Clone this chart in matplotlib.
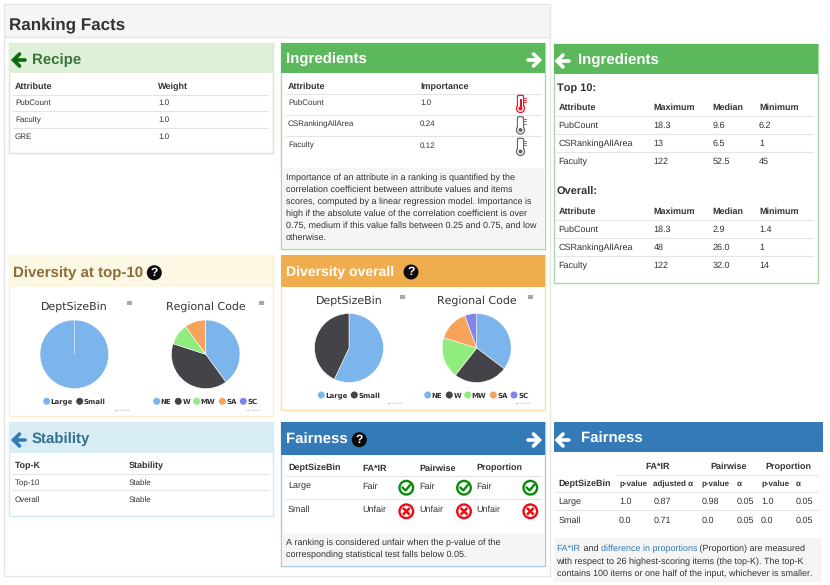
import matplotlib
matplotlib.use("Agg")
import matplotlib.pyplot as plt
from matplotlib.patches import Circle, FancyBboxPatch, Rectangle

plt.rcParams['font.family'] = ['Liberation Sans', 'DejaVu Sans']
plt.rcParams['text.hinting'] = 'no_hinting'
plt.rcParams['text.hinting_factor'] = 1

W, H = 830, 585

# Dados
recipe_attrs = ["PubCount", "Faculty", "GRE"]
recipe_weights = ["1.0", "1.0", "1.0"]

ingr_attrs = ["PubCount", "CSRankingAllArea", "Faculty"]
ingr_importance = ["1.0", "0.24", "0.12"]

top10_max = ["18.3", "13", "122"]
top10_median = ["9.6", "6.5", "52.5"]
top10_min = ["6.2", "1", "45"]
overall_max = ["18.3", "48", "122"]
overall_median = ["2.9", "26.0", "32.0"]
overall_min = ["1.4", "1", "14"]

size_labels = ["Large", "Small"]
region_labels = ["NE", "W", "MW", "SA", "SC"]
top10_size = [10, 0]
top10_region = [4, 4, 1, 1, 0]
overall_size = [57, 43]
overall_region = [35.3, 25.3, 19.2, 14.6, 5.6]

stability_k = ["Top-10", "Overall"]
stability_val = ["Stable", "Stable"]

fair_groups = ["Large", "Small"]
fair_status = ["Fair", "Unfair"]
fair_pvalue = ["1.0", "0.0"]
fair_adjusted = ["0.87", "0.71"]
pair_pvalue = ["0.98", "0.0"]
prop_pvalue = ["1.0", "0.0"]
alpha_vals = ["0.05", "0.05"]

note_ingredients = [
    "Importance of an attribute in a ranking is quantified by the",
    "correlation coefficient between attribute values and items",
    "scores, computed by a linear regression model. Importance is",
    "high if the absolute value of the correlation coefficient is over",
    "0.75, medium if this value falls between 0.25 and 0.75, and low",
    "otherwise.",
]
note_fairness = [
    "A ranking is considered unfair when the p-value of the",
    "corresponding statistical test falls below 0.05.",
]

PIE_COLORS = ['#7cb5ec', '#434348', '#90ed7d', '#f7a35c', '#8085e9']
TXT = '#333333'
LINE = '#e4e4e4'

fig = plt.figure(figsize=(W / 100, H / 100), dpi=100)
ax = fig.add_axes([0, 0, 1, 1])
ax.set_xlim(0, W)
ax.set_ylim(H, 0)
ax.axis('off')


def rect(x0, y0, x1, y1, fc='none', ec='none', lw=0.8, z=1):
    ax.add_patch(Rectangle((x0, y0), x1 - x0, y1 - y0, facecolor=fc, edgecolor=ec, linewidth=lw, zorder=z))


def label(x, y, s, size=None, bold=False, color=TXT, ha='left', family=None):
    if size is None:
        size = 6.2 if bold else 6.0
    kw = {'family': family} if family else {}
    return ax.text(x, y, s, fontsize=size, fontweight='bold' if bold else 'normal',
                   color=color, ha=ha, va='center_baseline', zorder=5, **kw)


def hline(x0, x1, y, color=LINE):
    ax.plot([x0, x1], [y, y], color=color, lw=0.8, zorder=3)


def arrow(x, y, color, right=False):
    # seta grossa no estilo do font-awesome
    s = -1 if right else 1
    ax.plot([x + s * 1.5, x + s * 12.5], [y, y], color=color, lw=2.6, solid_capstyle='round', zorder=6)
    ax.plot([x + s * 7, x + s * 1, x + s * 7], [y - 6, y, y + 6], color=color, lw=2.6,
            solid_capstyle='round', solid_joinstyle='miter', zorder=6)


def help_icon(x, y, r=7.5):
    ax.add_patch(Circle((x, y), r, facecolor='#0a0a0a', edgecolor='none', zorder=6))
    ax.text(x, y + 0.3, "?", fontsize=8.5, fontweight='bold', color='white', ha='center', va='center', zorder=7)


def ok_icon(x, y):
    ax.add_patch(Circle((x, y), 6.8, facecolor='white', edgecolor='#0a8a0a', linewidth=1.7, zorder=6))
    ax.plot([x - 3.5, x - 0.7, x + 3.7], [y, y + 2.8, y - 2.6], color='#0a8a0a', lw=1.7, zorder=7)


def bad_icon(x, y):
    ax.add_patch(Circle((x, y), 6.8, facecolor='white', edgecolor='#f00a14', linewidth=1.7, zorder=6))
    ax.plot([x - 2.5, x + 2.5], [y - 2.5, y + 2.5], color='#f00a14', lw=1.8, zorder=7)
    ax.plot([x - 2.5, x + 2.5], [y + 2.5, y - 2.5], color='#f00a14', lw=1.8, zorder=7)


def thermometer(x, y, color, filled=False):
    ax.add_patch(FancyBboxPatch((x - 1.8, y - 7), 3.6, 11, boxstyle="round,pad=1.2", facecolor='white',
                                edgecolor=color, linewidth=0.9, zorder=6))
    ax.add_patch(Circle((x, y + 5), 4.0, facecolor='white', edgecolor=color, linewidth=0.9, zorder=6))
    ax.add_patch(Circle((x, y + 5), 2.0, facecolor=color, edgecolor='none', zorder=8))
    ax.add_patch(Rectangle((x - 2.2, y - 6), 4.4, 11, facecolor='white', edgecolor='none', zorder=7))
    if filled:
        ax.add_patch(Rectangle((x - 1, y - 5), 2, 9, facecolor=color, edgecolor='none', zorder=8))
    for k in range(3):
        ax.plot([x + 3.6, x + 5.4], [y - 6 + k * 2.4] * 2, color=color, lw=0.6, zorder=6)


def panel(x0, y0, x1, y1, yh, head, border, title, tcolor, tx, tsize=10.5):
    rect(x0, y0, x1, y1, fc='white', ec=border, lw=1.0, z=1)
    rect(x0, y0, x1, yh, fc=head, ec='none', z=2)
    label(tx, (y0 + yh) / 2 + 0.3, title, size=tsize, bold=True, color=tcolor)


def pie(cx, cy, r, values):
    a = fig.add_axes([(cx - r - 1) / W, 1 - (cy + r + 1) / H, (2 * r + 2) / W, (2 * r + 2) / H])
    a.pie(values, colors=PIE_COLORS[:len(values)], startangle=90, counterclock=False, radius=r / (r + 1),
          wedgeprops={'edgecolor': 'white', 'linewidth': 0.4})
    a.set_xlim(-1, 1)
    a.set_ylim(-1, 1)
    a.patch.set_alpha(0)


def legend(items, y):
    # items: (nome, índice da cor, x do círculo)
    for name, i, x in items:
        ax.add_patch(Circle((x, y), 3.5, facecolor=PIE_COLORS[i], edgecolor='none', zorder=5))
        label(x + 4, y, name, size=4.8, bold=True, family='DejaVu Sans')


def menu_icon(x, y):
    rect(x - 2.5, y - 2, x + 2.5, y + 2, fc='#a8a8a8', z=5)
    hline(x - 2, x + 2, y, color='#e0e0e0')


def credit(x, y):
    label(x, y, "Highcharts.com", size=1.6, color='#999999', ha='center', family='DejaVu Sans')


# fundo da página
rect(3.5, 37, 550, 576, fc='white', ec='#e6e6e6', lw=1.0, z=0)
rect(3.5, 3.5, 550, 37, fc='#f5f5f5', ec='#e6e6e6', lw=1.0, z=0)
label(9, 23, "Ranking Facts", size=12.4, bold=True)

# Recipe
panel(8.5, 42.5, 272.5, 153, 73, '#dff0d8', '#d6e9c6', "Recipe", '#3c763d', 32)
arrow(12.5, 60, '#0a6b0a')
label(15, 85.7, "Attribute", bold=True)
label(158, 85.7, "Weight", bold=True)
for i, (a, w) in enumerate(zip(recipe_attrs, recipe_weights)):
    hline(13, 268, 94.5 + i * 16.5)
    label(15, 102.5 + i * 16.6, a)
    label(158, 102.5 + i * 16.6, w)

# Ingredients (meio)
panel(281, 42.5, 545, 248.5, 73, '#5cb85c', '#a9d8a9', "Ingredients", 'white', 285.7)
arrow(540.5, 60, 'white', right=True)
label(288, 85.7, "Attribute", bold=True)
label(420, 85.7, "Importance", bold=True)
for i, (a, v) in enumerate(zip(ingr_attrs, ingr_importance)):
    hline(285.5, 541, 94.3 + i * 21)
    label(288, 102.4 + i * 21.1, a)
    label(420, 102.4 + i * 21.1, v)
thermometer(520.5, 103.5, '#ee1122', filled=True)
thermometer(520.5, 125, '#666666')
thermometer(520.5, 146.5, '#666666')
rect(281.5, 167.7, 544.5, 248, fc='#f5f5f5', z=2)
for i, line in enumerate(note_ingredients):
    label(285.7, 176.8 + i * 12.05, line, size=6.3)

# Ingredients (direita)
panel(553.5, 43.5, 817.5, 283, 74, '#5cb85c', '#a9d8a9', "Ingredients", 'white', 578)
arrow(556, 61, 'white')


def summary_table(y_title, title, maxs, medians, mins):
    label(556.5, y_title, title, size=7.9, bold=True)
    y = y_title + 19.8
    for x, s in zip([558.5, 653.5, 712.7, 759], ["Attribute", "Maximum", "Median", "Minimum"]):
        label(x, y, s, size=6.7, bold=True)
    for i, a in enumerate(ingr_attrs):
        hline(556, 813, y + 9.3 + i * 18)
        row = y + 18.2 + i * 18
        label(558.5, row, a, size=6.7)
        label(653.5, row, maxs[i], size=6.7)
        label(712.7, row, medians[i], size=6.7)
        label(759, row, mins[i], size=6.7)


summary_table(87, "Top 10:", top10_max, top10_median, top10_min)
summary_table(191, "Overall:", overall_max, overall_median, overall_min)

# Diversity at top-10
panel(8.5, 254.5, 272.5, 415.5, 287, '#fcf8e3', '#faebcc', "Diversity at top-10", '#8a6d3b', 13.3, tsize=10.5)
help_icon(154.3, 272.7)
label(74, 306, "DeptSizeBin", size=7.7, ha='center', family='DejaVu Sans')
label(206, 306, "Regional Code", size=7.7, ha='center', family='DejaVu Sans')
pie(74.3, 354.3, 34.3, top10_size)
pie(205.7, 354.3, 34.3, top10_region)
menu_icon(129.7, 303.3)
menu_icon(261.7, 303.3)
legend(zip(size_labels, [0, 1], [46.7, 79.7]), 401.3)
legend(zip(region_labels, range(5), [156.7, 178.3, 196.7, 222.3, 243.3]), 401.3)
credit(122.7, 409.7)
credit(255, 409.7)

# Diversity overall
panel(281, 254.5, 545, 409.5, 287, '#f0ad4e', '#fbdcae', "Diversity overall", 'white', 285.7, tsize=10.3)
help_icon(411, 272)
label(349, 300, "DeptSizeBin", size=7.7, ha='center', family='DejaVu Sans')
label(476.7, 300, "Regional Code", size=7.7, ha='center', family='DejaVu Sans')
pie(349, 348, 34.5, overall_size)
pie(476.7, 348, 34.5, overall_region)
menu_icon(402.7, 297.3)
menu_icon(530.3, 297.3)
legend(zip(size_labels, [0, 1], [321.3, 354.3]), 395)
legend(zip(region_labels, range(5), [427.7, 449.3, 467.7, 493.3, 514]), 395)
credit(396, 403.3)
credit(523.3, 403.3)

# Stability
panel(8.5, 422.3, 272.5, 516.3, 452.7, '#d9edf7', '#cfe8f3', "Stability", '#31708f', 32)
arrow(12.5, 440, '#337ab7')
label(15, 465.3, "Top-K", bold=True)
label(129, 465.3, "Stability", bold=True)
for i, (k, v) in enumerate(zip(stability_k, stability_val)):
    hline(13, 268, 473.7 + i * 16.6)
    label(15, 482 + i * 16.7, k)
    label(129, 482 + i * 16.7, v)

# Fairness (meio)
panel(281, 422.3, 545, 565.7, 454.7, '#337ab7', '#a9c8e4', "Fairness", 'white', 285.7)
help_icon(359.3, 439.7)
arrow(540.5, 440, 'white', right=True)
label(288, 467.3, "DeptSizeBin", size=6.6, bold=True)
for x, s in zip([362, 419, 476.7], ["FA*IR", "Pairwise", "Proportion"]):
    label(x, 467.3, s, size=6.6, bold=True)
for i, g in enumerate(fair_groups):
    hline(285.5, 541, 476.3 + i * 23)
    row = 485.3 + i * 23.4
    label(288, row, g, size=6.6)
    for x, xi in zip([362, 419, 476.7], [406.3, 464, 530.3]):
        label(x, row, fair_status[i], size=6.6)
        if fair_status[i] == "Fair":
            ok_icon(xi, 487.7)
        else:
            bad_icon(xi, 511.3)
rect(281.5, 533, 544.5, 565.3, fc='#f5f5f5', z=2)
for i, line in enumerate(note_fairness):
    label(285.7, 541.8 + i * 12.2, line, size=6.3)

# Fairness (direita)
rect(553.5, 421.7, 823, 452.3, fc='#337ab7', z=2)
label(581, 437.3, "Fairness", size=10.5, bold=True, color='white')
arrow(556, 440, 'white')
for x, s in zip([657.7, 728.7, 788.7], ["FA*IR", "Pairwise", "Proportion"]):
    label(x, 466, s, size=6.6, bold=True, ha='center')
hline(616, 818, 475)
label(558.7, 483.3, "DeptSizeBin", size=6.6, bold=True)
sub_x = [619, 653.3, 701.7, 736.7, 761, 796]
for x, s in zip(sub_x, ["p-value", "adjusted α", "p-value", "α", "p-value", "α"]):
    label(x, 483.3, s, size=6, bold=True)
fair_columns = [fair_pvalue, fair_adjusted, pair_pvalue, alpha_vals, prop_pvalue, alpha_vals]
for i, g in enumerate(fair_groups):
    hline(556, 818, 491.7 + i * 18.6)
    row = 501 + i * 18.3
    label(558.7, row, g, size=6.7)
    for x, col in zip(sub_x, fair_columns):
        label(x, row, col[i], size=6.7)
rect(553.5, 538.3, 822, 581.7, fc='#f5f5f5', z=2)

# primeira linha da nota tem trechos com link
rend = fig.canvas.get_renderer()
cur = 556.5
for s, c in [("FA*IR", '#337ab7'), (" and ", TXT), ("difference in proportions", '#337ab7'),
             (" (Proportion) are measured", TXT)]:
    t = label(cur, 548, s.replace(" ", "\u00a0"), size=6.4, color=c)
    cur = ax.transData.inverted().transform(t.get_window_extent(rend))[1][0]
label(556.5, 560.5, "with respect to 26 highest-scoring items (the top-K). The top-K", size=6.4)
label(556.5, 572.7, "contains 100 items or one half of the input, whichever is smaller.", size=6.4)

fig.savefig("out.png", dpi=100)
